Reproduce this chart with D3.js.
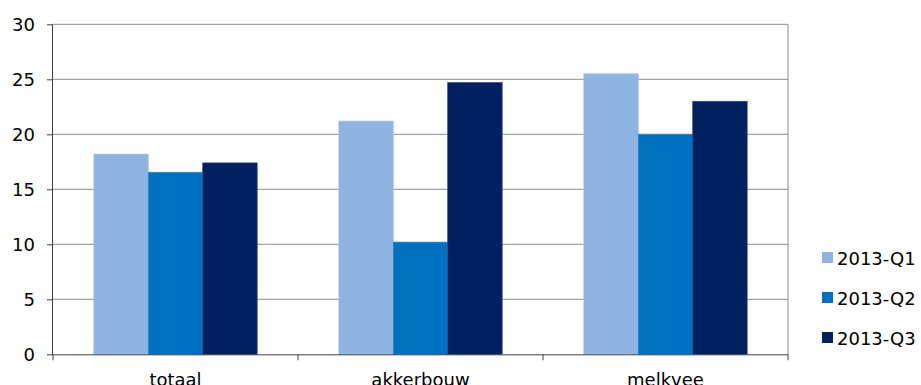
<!DOCTYPE html>
<html><head><meta charset="utf-8">
<script src="https://cdn.jsdelivr.net/npm/d3@7"></script>
<style>
body{margin:0;background:#fff;}
svg{display:block;font-family:"DejaVu Sans",Verdana,sans-serif;}
</style></head>
<body><svg id="c" width="921" height="385"></svg>
<script>
const categories = ["totaal", "akkerbouw", "melkvee"];
const seriesNames = ["2013-Q1", "2013-Q2", "2013-Q3"];
const q1 = [18.2, 21.2, 25.5];
const q2 = [16.55, 10.2, 20.0];
const q3 = [17.4, 24.7, 23.0];
const yTicks = [0, 5, 10, 15, 20, 25, 30];
const colors = ["#8EB4E3", "#0070C0", "#002060"];
const strokes = ["#a9c6ec", "#2a86c9", "#2a4479"];

const seriesValues = [q1, q2, q3];
const svg = d3.select("#c");
const pL = 53, pR = 788, pT = 24.3, pB = 354.3;
const fs = 18;

const x = d3.scaleBand().domain(categories).range([pL, pR]).paddingInner(0).paddingOuter(0);
const y = d3.scaleLinear().domain([0, 30]).range([pB, pT]);
// Excel gap width 150%: bar width = band / (3 + 1.5)
const barW = x.bandwidth() / (seriesNames.length + 1.5);
const x1 = d3.scaleBand().domain(seriesNames)
  .range([0, barW * seriesNames.length]);
const gapOffset = (x.bandwidth() - barW * seriesNames.length) / 2;

// gridlines
svg.append("g").selectAll("line").data(yTicks.filter(d => d > 0)).join("line")
  .attr("x1", pL).attr("x2", pR)
  .attr("y1", d => y(d)).attr("y2", d => y(d))
  .attr("stroke", "#8c8c8c").attr("stroke-width", 1);
// right border
svg.append("line").attr("x1", pR).attr("x2", pR).attr("y1", pT).attr("y2", pB)
  .attr("stroke", "#8c8c8c");

// bars
const g = svg.append("g");
categories.forEach((c, ci) => {
  seriesNames.forEach((s, si) => {
    const v = seriesValues[si][ci];
    g.append("rect")
      .attr("x", x(c) + gapOffset + x1(s))
      .attr("y", y(v))
      .attr("width", x1.bandwidth())
      .attr("height", y(0) - y(v))
      .attr("fill", colors[si])
      .attr("stroke", strokes[si]).attr("stroke-width", 0.7);
  });
});

// y axis
const yAxis = d3.axisLeft(y).tickValues(yTicks).tickSize(6).tickPadding(12).tickFormat(d3.format("d"));
const ya = svg.append("g").attr("transform", `translate(${pL},0)`).call(yAxis);
ya.select(".domain").attr("stroke", "#404040").attr("d", `M-0.5,${pT}V${pB}`);
ya.selectAll(".tick line").attr("stroke", "#404040");
ya.selectAll("text").attr("font-size", fs).attr("font-family", "DejaVu Sans").attr("fill", "#000");

// x axis
const xa = svg.append("g").attr("transform", `translate(0,${pB})`)
  .call(d3.axisBottom(x).tickSize(0).tickPadding(19));
xa.select(".domain").attr("stroke", "#404040").attr("d", `M${pL},0.5H${pR}`);
xa.selectAll("text").attr("font-size", fs).attr("font-family", "DejaVu Sans").attr("fill", "#000");
// category boundary ticks
const bounds = categories.map(c => x(c)).concat([pR]);
svg.append("g").selectAll("line").data(bounds).join("line")
  .attr("x1", d => d).attr("x2", d => d)
  .attr("y1", pB).attr("y2", pB + 6)
  .attr("stroke", "#404040");

// legend
const leg = svg.append("g");
seriesNames.forEach((s, i) => {
  const cy = 257.5 + i * 40;
  leg.append("rect").attr("x", 822).attr("y", cy - 5.5).attr("width", 11).attr("height", 11)
    .attr("fill", colors[i]);
  leg.append("text").attr("x", 837).attr("y", cy + 7.5).attr("font-size", fs)
    .attr("fill", "#000").text(s);
});
</script></body></html>
